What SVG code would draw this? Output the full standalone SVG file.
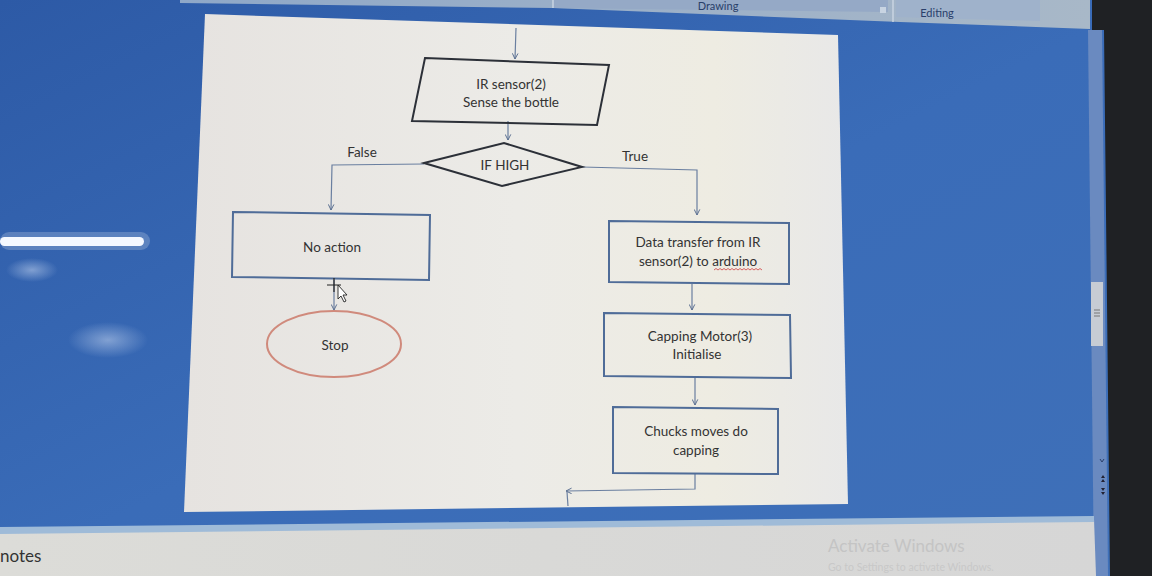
<svg xmlns="http://www.w3.org/2000/svg" width="1152" height="576" viewBox="0 0 1152 576">
<defs>
<linearGradient id="bg" x1="0" y1="0" x2="1" y2="1">
<stop offset="0" stop-color="#2d5aa6"/>
<stop offset="0.5" stop-color="#3a6cb8"/>
<stop offset="1" stop-color="#3f70b8"/>
</linearGradient>
<linearGradient id="slide" x1="0" y1="0" x2="1" y2="0">
<stop offset="0" stop-color="#e6e3e0"/>
<stop offset="0.5" stop-color="#ecebe7"/>
<stop offset="0.8" stop-color="#eeece2"/>
<stop offset="1" stop-color="#e8e8e8"/>
</linearGradient>
<linearGradient id="notes" x1="0" y1="0" x2="1" y2="0">
<stop offset="0" stop-color="#dcdcd8"/>
<stop offset="1" stop-color="#d6d6d6"/>
</linearGradient>
<linearGradient id="ribbon" x1="0" y1="0" x2="1" y2="0">
<stop offset="0" stop-color="#8fa8c8"/>
<stop offset="1" stop-color="#a8b8c8"/>
</linearGradient>
<radialGradient id="haze">
<stop offset="0" stop-color="#b4c8e8" stop-opacity="0.6"/>
<stop offset="1" stop-color="#b4c8e8" stop-opacity="0"/>
</radialGradient>
<marker id="arr" viewBox="0 0 10 10" refX="9" refY="5" markerWidth="7" markerHeight="7" orient="auto" markerUnits="userSpaceOnUse">
<path d="M1,1 L9,5 L1,9" fill="none" stroke="#5a6f90" stroke-width="1.4"/>
</marker>
</defs>
<style>
.t{font-family:Lato,"Noto Sans","Liberation Sans",sans-serif;font-size:13.5px;fill:#333;text-anchor:middle}
.box{fill:none;stroke:#4f6c98;stroke-width:2}
.dark{fill:none;stroke:#2c3038;stroke-width:2}
.con{fill:none;stroke:#6a7fa0;stroke-width:1.2}
.ui{font-family:Lato,"Noto Sans","Liberation Sans",sans-serif}
</style>

<!-- background -->
<rect width="1152" height="576" fill="url(#bg)"/>
<!-- glare -->
<rect x="0" y="232" width="150" height="18" rx="9" fill="#ffffff" opacity="0.2"/>
<rect x="0" y="237" width="144" height="9" rx="4.5" fill="#f4f8ff"/>
<ellipse cx="32" cy="270" rx="26" ry="12" fill="url(#haze)"/>
<ellipse cx="108" cy="340" rx="40" ry="18" fill="url(#haze)"/>
<!-- ribbon -->
<polygon points="180,0 1090,0 1090,29 900,22 553,8 180,3" fill="url(#ribbon)"/>
<polygon points="553,0 888,0 888,12 553,8" fill="#95a9c6"/>
<polygon points="896,0 1040,0 1040,21 896,17" fill="#9fb2cb"/>
<line x1="553" y1="0" x2="553" y2="8" stroke="#c8d4e2" stroke-width="1.5"/>
<line x1="893" y1="0" x2="893" y2="22" stroke="#c8d4e2" stroke-width="1.5"/>
<text x="718" y="10" class="ui" font-size="11" fill="#2a3f6a" text-anchor="middle">Drawing</text>
<text x="937" y="17" class="ui" font-size="11" fill="#2a3f6a" text-anchor="middle">Editing</text>
<rect x="880" y="7" width="6" height="6" fill="#c8d4e2"/>
<!-- bezel -->
<polygon points="1092,0 1152,0 1152,576 1110,576 1104,30 1092,30" fill="#1f2124"/>
<!-- right scrollbar -->
<polygon points="1088,30 1102,30 1108,576 1094,576" fill="#6a8ac0"/>
<rect x="1091" y="282" width="12" height="64" fill="#c7ccd4"/>
<line x1="1094" y1="310" x2="1100" y2="310" stroke="#777"/>
<line x1="1094" y1="313" x2="1100" y2="313" stroke="#777"/>
<line x1="1094" y1="316" x2="1100" y2="316" stroke="#777"/>
<path d="M1100,459 l2,3 l2,-3" fill="none" stroke="#2a3f6a" stroke-width="1"/>
<path d="M1101,478 l2,-3 l2,3 z M1101,482 l2,-3 l2,3 z" fill="#223"/>
<path d="M1101,488 l2,3 l2,-3 z M1101,492 l2,3 l2,-3 z" fill="#223"/>
<!-- notes pane -->
<polygon points="0,530 1094,519 1096,576 0,576" fill="url(#notes)"/>
<polygon points="0,527 1094,516 1094,522 0,534" fill="#9fbbd8"/>
<text x="0" y="562" class="ui" font-size="17" fill="#333">notes</text>
<text x="828" y="552" class="ui" font-size="17" fill="#c4c4c4">Activate Windows</text>
<text x="828" y="571" class="ui" font-size="10.5" fill="#c8c8c8">Go to Settings to activate Windows.</text>

<!-- slide -->
<polygon points="205,14 838,35 848,504 184,512" fill="url(#slide)"/>

<!-- connectors -->
<g id="connectors">
<line class="con" x1="516" y1="28" x2="515" y2="59" marker-end="url(#arr)"/>
<line class="con" x1="508" y1="121" x2="508" y2="140" marker-end="url(#arr)"/>
<polyline class="con" points="424,164 332,165 331,210" marker-end="url(#arr)"/>
<polyline class="con" points="582,167 697,170 697,215" marker-end="url(#arr)"/>
<line class="con" x1="334" y1="280" x2="334" y2="310" marker-end="url(#arr)"/>
<line class="con" x1="692" y1="284" x2="692" y2="310" marker-end="url(#arr)"/>
<line class="con" x1="695" y1="378" x2="695" y2="405" marker-end="url(#arr)"/>
<polyline class="con" points="695,473 695,489 566,491" marker-end="url(#arr)"/>
<line class="con" x1="567" y1="492" x2="568" y2="506"/>
<text class="t" x="362" y="157">False</text>
<text class="t" x="635" y="161">True</text>
</g>

<g id="n-sensor">
<polygon class="dark" points="425,58 609,65 597,125 412,121"/>
<text class="t" x="511" y="89">IR sensor(2)</text>
<text class="t" x="511" y="107">Sense the bottle</text>
</g>

<g id="n-decision">
<polygon class="dark" points="424,163 504,143 582,167 502,186"/>
<text class="t" x="505" y="170">IF HIGH</text>
</g>

<g id="n-noaction">
<polygon class="box" points="233,212 430,215 429,280 232,277"/>
<text class="t" x="332" y="252">No action</text>
</g>

<g id="n-stop">
<ellipse cx="334" cy="344" rx="67" ry="33" fill="none" stroke="#d08a7c" stroke-width="2"/>
<text class="t" x="335" y="350">Stop</text>
</g>

<g id="n-transfer">
<polygon class="box" points="609,221 789,223 789,284 609,282"/>
<text class="t" x="698" y="247">Data transfer from IR</text>
<text class="t" x="698" y="266">sensor(2) to arduino</text>
<path d="M714,270 l2,-1.5 l2,1.5 l2,-1.5 l2,1.5 l2,-1.5 l2,1.5 l2,-1.5 l2,1.5 l2,-1.5 l2,1.5 l2,-1.5 l2,1.5 l2,-1.5 l2,1.5 l2,-1.5 l2,1.5 l2,-1.5 l2,1.5 l2,-1.5 l2,1.5 l2,-1.5 l2,1.5 l2,-1.5 l2,1.5" fill="none" stroke="#d04040" stroke-width="0.8"/>
</g>

<g id="n-motor">
<polygon class="box" points="604,313 790,315 791,378 604,376"/>
<text class="t" x="700" y="341">Capping  Motor(3)</text>
<text class="t" x="697" y="359">Initialise</text>
</g>

<g id="n-chucks">
<polygon class="box" points="613,407 778,409 778,474 613,473"/>
<text class="t" x="696" y="436">Chucks moves do</text>
<text class="t" x="696" y="455">capping</text>
</g>

<!-- mouse cursor -->
<g id="cursor">
<path d="M334,278 v14 M327,285 h14" stroke="#222" stroke-width="1.2"/>
<path d="M338,285 l0,14 l3,-3 l3,6 l2,-1 l-3,-6 l4,0 z" fill="#fff" stroke="#222" stroke-width="0.9"/>
</g>
</svg>
